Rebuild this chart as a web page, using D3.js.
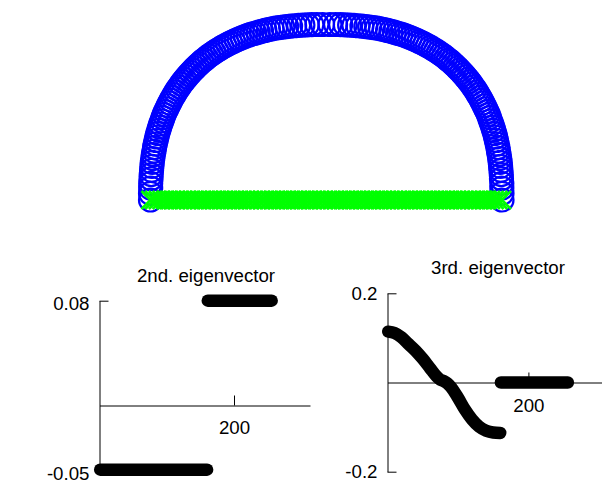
<!DOCTYPE html>
<html>
<head>
<meta charset="utf-8">
<script src="https://cdn.jsdelivr.net/npm/d3@7"></script>
<style>
  html, body { margin: 0; padding: 0; background: #fff; }
  svg { display: block; }
  text { font-family: 'Liberation Sans', Arial, sans-serif; font-size: 18.7px; fill: #000; }
</style>
</head>
<body>
<script>
;(function() {
  'use strict';

  // points 1..160: the arch (unit coordinates)
  var archX = [
    1.000, 1.000, 0.999, 0.999, 0.997, 0.996, 0.994, 0.992, 0.990, 0.987,
    0.984, 0.980, 0.977, 0.973, 0.968, 0.964, 0.959, 0.953, 0.948, 0.942,
    0.935, 0.929, 0.922, 0.915, 0.907, 0.899, 0.891, 0.883, 0.874, 0.865,
    0.856, 0.846, 0.836, 0.826, 0.815, 0.805, 0.793, 0.782, 0.770, 0.758,
    0.746, 0.734, 0.721, 0.708, 0.694, 0.681, 0.667, 0.652, 0.638, 0.623,
    0.608, 0.593, 0.577, 0.561, 0.545, 0.529, 0.512, 0.495, 0.478, 0.460,
    0.442, 0.424, 0.406, 0.387, 0.368, 0.349, 0.329, 0.309, 0.289, 0.268,
    0.247, 0.225, 0.203, 0.180, 0.157, 0.133, 0.108, 0.082, 0.053, 0.021,
    -0.021, -0.053, -0.082, -0.108, -0.133, -0.157, -0.180, -0.203, -0.225, -0.247,
    -0.268, -0.289, -0.309, -0.329, -0.349, -0.368, -0.387, -0.406, -0.424, -0.442,
    -0.460, -0.478, -0.495, -0.512, -0.529, -0.545, -0.561, -0.577, -0.593, -0.608,
    -0.623, -0.638, -0.652, -0.667, -0.681, -0.694, -0.708, -0.721, -0.734, -0.746,
    -0.758, -0.770, -0.782, -0.793, -0.805, -0.815, -0.826, -0.836, -0.846, -0.856,
    -0.865, -0.874, -0.883, -0.891, -0.899, -0.907, -0.915, -0.922, -0.929, -0.935,
    -0.942, -0.948, -0.953, -0.959, -0.964, -0.968, -0.973, -0.977, -0.980, -0.984,
    -0.987, -0.990, -0.992, -0.994, -0.996, -0.997, -0.999, -0.999, -1.000, -1.000
  ];
  var archY = [
    0.000, 0.038, 0.068, 0.095, 0.121, 0.145, 0.169, 0.192, 0.214, 0.236,
    0.258, 0.279, 0.299, 0.319, 0.339, 0.359, 0.378, 0.397, 0.415, 0.433,
    0.451, 0.469, 0.487, 0.504, 0.520, 0.537, 0.553, 0.569, 0.585, 0.600,
    0.616, 0.631, 0.645, 0.660, 0.674, 0.687, 0.701, 0.714, 0.727, 0.740,
    0.752, 0.764, 0.776, 0.788, 0.799, 0.810, 0.821, 0.831, 0.841, 0.851,
    0.860, 0.870, 0.879, 0.887, 0.895, 0.903, 0.911, 0.918, 0.925, 0.932,
    0.939, 0.945, 0.950, 0.956, 0.961, 0.966, 0.971, 0.975, 0.979, 0.982,
    0.985, 0.988, 0.991, 0.993, 0.995, 0.997, 0.998, 0.999, 1.000, 1.000,
    1.000, 1.000, 0.999, 0.998, 0.997, 0.995, 0.993, 0.991, 0.988, 0.985,
    0.982, 0.979, 0.975, 0.971, 0.966, 0.961, 0.956, 0.950, 0.945, 0.939,
    0.932, 0.925, 0.918, 0.911, 0.903, 0.895, 0.887, 0.879, 0.870, 0.860,
    0.851, 0.841, 0.831, 0.821, 0.810, 0.799, 0.788, 0.776, 0.764, 0.752,
    0.740, 0.727, 0.714, 0.701, 0.687, 0.674, 0.660, 0.645, 0.631, 0.616,
    0.600, 0.585, 0.569, 0.553, 0.537, 0.520, 0.504, 0.487, 0.469, 0.451,
    0.433, 0.415, 0.397, 0.378, 0.359, 0.339, 0.319, 0.299, 0.279, 0.258,
    0.236, 0.214, 0.192, 0.169, 0.145, 0.121, 0.095, 0.068, 0.038, 0.000
  ];

  // points 161..256: the straight base
  var baseX = [
    -1.000, -0.979, -0.958, -0.937, -0.916, -0.895, -0.874, -0.853, -0.832, -0.811,
    -0.789, -0.768, -0.747, -0.726, -0.705, -0.684, -0.663, -0.642, -0.621, -0.600,
    -0.579, -0.558, -0.537, -0.516, -0.495, -0.474, -0.453, -0.432, -0.411, -0.389,
    -0.368, -0.347, -0.326, -0.305, -0.284, -0.263, -0.242, -0.221, -0.200, -0.179,
    -0.158, -0.137, -0.116, -0.095, -0.074, -0.053, -0.032, -0.011,
    0.011, 0.032, 0.053, 0.074, 0.095, 0.116, 0.137, 0.158, 0.179, 0.200,
    0.221, 0.242, 0.263, 0.284, 0.305, 0.326, 0.347, 0.368, 0.389, 0.411,
    0.432, 0.453, 0.474, 0.495, 0.516, 0.537, 0.558, 0.579, 0.600, 0.621,
    0.642, 0.663, 0.684, 0.705, 0.726, 0.747, 0.768, 0.789, 0.811, 0.832,
    0.853, 0.874, 0.895, 0.916, 0.937, 0.958, 0.979, 1.000
  ];
  var baseY = 0;

  // 2nd eigenvector, constant on each piece
  var ev2From = [1, 161];
  var ev2To = [160, 256];
  var ev2Value = [-0.049, 0.080];
  var ev2Ticks = [-0.05, 0.08];

  // 3rd eigenvector, read along the arch, then flat on the base
  var ev3Index = [1, 10, 20, 30, 40, 50, 60, 70, 75, 80, 85, 90, 100, 110, 120, 130, 140, 150, 160];
  var ev3Value = [0.114, 0.111, 0.101, 0.086, 0.071, 0.053, 0.033, 0.013, 0.006, 0.003,
                  -0.002, -0.010, -0.034, -0.061, -0.083, -0.099, -0.108, -0.112, -0.113];
  var ev3FlatFrom = 161, ev3FlatTo = 256, ev3FlatValue = 0;
  var ev3Ticks = [-0.2, 0.2];

  var indexTicks = [200];
  var indexMax = 313;

  var width = 602, height = 484;

  var svg = d3.select('body')
    .append('svg')
    .attr('width', width)
    .attr('height', height);

  /* ------- TOP: POINT SET ------- */
  var sx = d3.scaleLinear().domain([-1, 1]).range([150.5, 502]);
  var sy = d3.scaleLinear().domain([0, 1]).range([200, 24.5]);

  var arch = archX.map(function(x, i) { return [x, archY[i]]; });
  var base = baseX.map(function(x) { return [x, baseY]; });

  svg.append('g')
    .attr('class', 'arch')
    .selectAll('circle')
    .data(arch)
    .enter()
    .append('circle')
    .attr('cx', function(d) { return sx(d[0]); })
    .attr('cy', function(d) { return sy(d[1]); })
    .attr('r', 11.5)
    .attr('fill', 'none')
    .attr('stroke', '#0000ff')
    .attr('stroke-width', 2.2);

  var cross = d3.symbol().type(d3.symbolTimes).size(213);

  svg.append('g')
    .attr('class', 'base')
    .selectAll('path')
    .data(base)
    .enter()
    .append('path')
    .attr('d', cross)
    .attr('transform', function(d) { return 'translate(' + sx(d[0]) + ',' + sy(d[1]) + ')'; })
    .attr('fill', 'none')
    .attr('stroke', '#00ff00')
    .attr('stroke-width', 2.6);

  /* ------- BOTTOM PANELS ------- */
  function panel(opts) {
    var g = svg.append('g').attr('class', opts.name);

    var x = d3.scaleLinear().domain([0, indexMax]).range(opts.xRange);
    var y = d3.scaleLinear().domain(opts.ticks).range(opts.yRange);

    var yAxis = g.append('g')
      .attr('class', 'y-axis')
      .attr('transform', 'translate(' + opts.xRange[0] + ',0)')
      .call(d3.axisLeft(y)
        .tickValues(opts.ticks)
        .tickSizeInner(-9)
        .tickSizeOuter(0)
        .tickPadding(10)
        .tickFormat(function(d) { return String(d); }))
      .attr('font-size', null)
      .attr('font-family', null);

    yAxis.selectAll('text')
      .attr('dy', opts.labelDy);

    g.append('g')
      .attr('class', 'x-axis')
      .attr('transform', 'translate(0,' + y(0) + ')')
      .call(d3.axisBottom(x)
        .tickValues(indexTicks)
        .tickSizeInner(-10)
        .tickSizeOuter(0)
        .tickPadding(opts.xPad))
      .attr('font-size', null)
      .attr('font-family', null);

    g.append('text')
      .attr('x', opts.titleX)
      .attr('y', opts.titleY)
      .attr('text-anchor', 'middle')
      .text(opts.title);

    return { g: g, x: x, y: y };
  }

  var p2 = panel({
    name: 'ev2', title: '2nd. eigenvector', ticks: ev2Ticks,
    xRange: [99.5, 310], yRange: [471, 300.7], xPad: 15, labelDy: '0.45em',
    titleX: 206, titleY: 282.3
  });

  var line2 = d3.line()
    .x(function(d) { return p2.x(d[0]); })
    .y(function(d) { return p2.y(d[1]); });

  p2.g.selectAll('path.piece')
    .data(ev2Value.map(function(v, i) { return [[ev2From[i], v], [ev2To[i], v]]; }))
    .enter()
    .append('path')
    .attr('class', 'piece')
    .attr('d', line2)
    .attr('fill', 'none')
    .attr('stroke', '#000')
    .attr('stroke-width', 12.5)
    .attr('stroke-linecap', 'round');

  var p3 = panel({
    name: 'ev3', title: '3rd. eigenvector', ticks: ev3Ticks,
    xRange: [387.5, 608], yRange: [471.7, 293.3], xPad: 16.5, labelDy: '0.32em',
    titleX: 498, titleY: 274
  });

  var line3 = d3.line()
    .x(function(d) { return p3.x(d[0]); })
    .y(function(d) { return p3.y(d[1]); });

  p3.g.append('path')
    .datum(ev3Index.map(function(idx, i) { return [idx, ev3Value[i]]; }))
    .attr('d', line3.curve(d3.curveMonotoneX))
    .attr('fill', 'none')
    .attr('stroke', '#000')
    .attr('stroke-width', 12.5)
    .attr('stroke-linecap', 'round')
    .attr('stroke-linejoin', 'round');

  p3.g.append('path')
    .datum([[ev3FlatFrom, ev3FlatValue], [ev3FlatTo, ev3FlatValue]])
    .attr('d', line3.curve(d3.curveLinear))
    .attr('fill', 'none')
    .attr('stroke', '#000')
    .attr('stroke-width', 12.5)
    .attr('stroke-linecap', 'round');
})();
</script>
</body>
</html>
